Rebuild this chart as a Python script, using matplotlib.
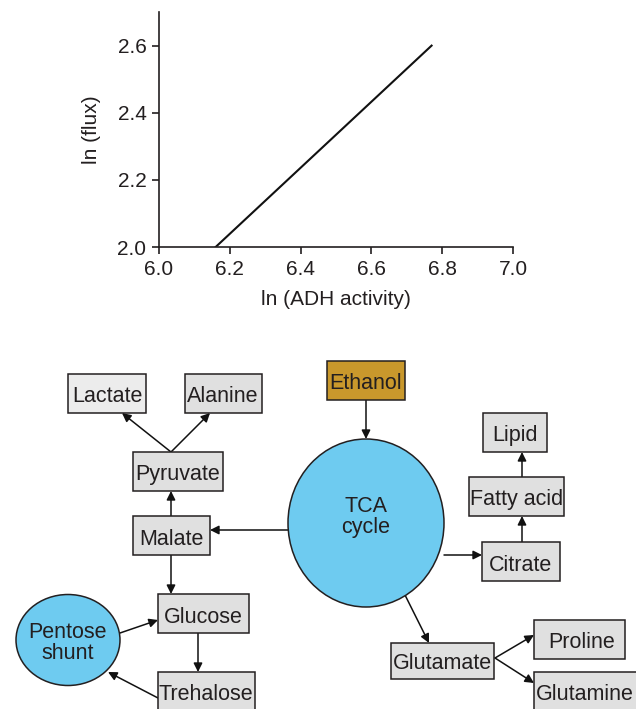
import matplotlib.pyplot as plt
from matplotlib.patches import Rectangle, Ellipse

plt.rcParams['font.family'] = ['Liberation Sans', 'DejaVu Sans']

# ---- datos de la grafica ----
adh_ln = [6.16, 6.77]
flux_ln = [2.0, 2.6]
xticks = [6.0, 6.2, 6.4, 6.6, 6.8, 7.0]
yticks = [2.0, 2.2, 2.4, 2.6]

# ---- nodos del esquema (pixeles: x0, y0, x1, y1) ----
box_names = ["Lactate", "Alanine", "Pyruvate", "Malate", "Glucose", "Trehalose",
             "Ethanol", "Lipid", "Fatty acid", "Citrate", "Glutamate", "Proline", "Glutamine"]
box_coords = [(68, 374, 146, 413), (185, 374, 262, 413), (133, 452, 223, 491),
              (133, 516, 210, 555), (158, 594, 249, 633), (158, 672, 255, 716),
              (327, 361, 405, 400), (483, 413, 547, 452), (469, 477, 564, 516),
              (482, 542, 560, 581), (391, 643, 494, 679), (534, 620, 625, 659),
              (534, 672, 640, 716)]
box_fill = ["#ececec"] + ["#e0e0e0"] * 5 + ["#c9982c"] + ["#e0e0e0"] * 6
text_x = [107, 223, 178, 171, 203, 206, 366, 515, 517, 521, 442, 582, 585]
text_y = [394, 394, 472, 537, 615, 692, 381, 433, 497, 563, 661, 640, 692]

circ_names = ["TCA\ncycle", "Pentose\nshunt"]
circ_centers = [(366, 523), (68, 640)]
circ_sizes = [(156, 168), (104, 91)]
circ_text_y = [517, 643]

arrows = [((171, 452), (122, 413)), ((171, 452), (210, 413)),
          ((171, 516), (171, 491)), ((288, 530), (210, 530)),
          ((171, 555), (171, 594)), ((120, 633), (158, 620)),
          ((198, 633), (198, 672)), ((158, 698), (108, 672)),
          ((366, 400), (366, 439)), ((444, 555), (482, 555)),
          ((522, 542), (522, 516)), ((522, 477), (522, 452)),
          ((405, 595), (429, 643)), ((495, 658), (534, 635)),
          ((495, 658), (534, 683))]

fig = plt.figure(figsize=(6.36, 7.09), dpi=100)

# ---- grafica superior ----
ax = fig.add_axes([0.25, 0.6516, 0.5566, 0.3314])
ax.plot(adh_ln, flux_ln, color="#111111", lw=1.5)
ax.set_xlim(6.0, 7.0)
ax.set_ylim(2.0, 2.7)
ax.set_xticks(xticks)
ax.set_yticks(yticks)
ax.set_xticklabels([f"{v:.1f}" for v in xticks])
ax.set_yticklabels([f"{v:.1f}" for v in yticks])
ax.spines["top"].set_visible(False)
ax.spines["right"].set_visible(False)
for s in ["left", "bottom"]:
    ax.spines[s].set_linewidth(1.2)
    ax.spines[s].set_color("#231f20")
ax.tick_params(direction="out", length=5, width=1.2, labelsize=15, colors="#231f20", pad=4)
ax.set_xlabel("ln (ADH activity)", fontsize=15, color="#231f20", labelpad=8)
ax.set_ylabel("ln (flux)", fontsize=15, color="#231f20", labelpad=12)

# ---- esquema metabolico ----
dg = fig.add_axes([0, 0, 1, 1])
dg.set_xlim(0, 636)
dg.set_ylim(709, 0)
dg.axis("off")

for (a, b) in arrows:
    dg.annotate("", xy=b, xytext=a,
                arrowprops=dict(arrowstyle="-|>", color="#111111", lw=1.1,
                                mutation_scale=13, shrinkA=0, shrinkB=0))

for name, (x0, y0, x1, y1), fc, tx, ty in zip(box_names, box_coords, box_fill, text_x, text_y):
    dg.add_patch(Rectangle((x0, y0), x1 - x0, y1 - y0, facecolor=fc,
                           edgecolor="#231f20", lw=1.1, zorder=3))
    dg.text(tx, ty, name, ha="center", va="center_baseline", fontsize=15.5,
            color="#231f20", zorder=4)

for name, (cx, cy), (w, h), ty in zip(circ_names, circ_centers, circ_sizes, circ_text_y):
    dg.add_patch(Ellipse((cx, cy), w, h, facecolor="#6ecbf0",
                         edgecolor="#231f20", lw=1.1, zorder=3))
    dg.text(cx, ty, name, ha="center", va="center", fontsize=15.5,
            color="#231f20", linespacing=1.0, zorder=4)

fig.savefig("out.png", dpi=100)
